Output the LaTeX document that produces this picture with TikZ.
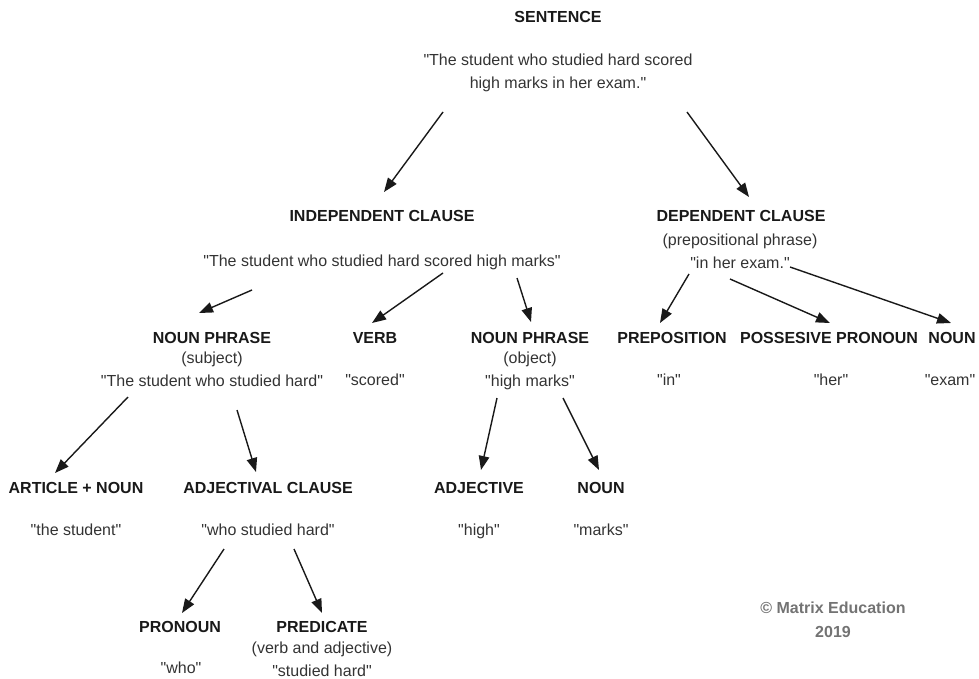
\documentclass[tikz,border=0pt]{standalone}
\usepackage{fontspec}
\setmainfont{Liberation Sans}[Ligatures=TeXOff]
\usetikzlibrary{arrows.meta}

\tikzset{
  lbl/.style={anchor=north,inner sep=0pt,align=center,font=\fontsize{16}{22.5}\selectfont},
  head/.style={lbl,text=black!90,font=\fontsize{16}{22.5}\selectfont\bfseries},
  quote/.style={lbl,text=black!80},
  note/.style={lbl,text=black!55,font=\fontsize{16}{24}\selectfont\bfseries},
  arr/.style={line width=1.4pt,black!90,-{Triangle[length=14pt,width=10.5pt]}}
}

\begin{document}
\begin{tikzpicture}[x=1pt,y=-1pt]
\useasboundingbox (0,0) rectangle (979,679);
% sentence
\node[head]  (sent)   at (558,11)  {SENTENCE};
\node[quote] (sentq)  at (558,54)  {"The student who studied hard scored\\high marks in her exam."};
% clauses
\node[head]  (indep)  at (382,210) {INDEPENDENT CLAUSE};
\node[quote] (indepq) at (382,255) {"The student who studied hard scored high marks"};
\node[head]  (dep)    at (741,210) {DEPENDENT CLAUSE};
\node[quote] (depq)   at (740,234) {(prepositional phrase)\\"in her exam."};
% phrases
\node[head]  (nps)    at (212,332) {NOUN PHRASE};
\node[quote] (npsq)   at (212,352) {(subject)\\"The student who studied hard"};
\node[head]  (verb)   at (375,332) {VERB};
\node[quote] (verbq)  at (375,374) {"scored"};
\node[head]  (npo)    at (530,332) {NOUN PHRASE};
\node[quote] (npoq)   at (530,352) {(object)\\"high marks"};
\node[head]  (prep)   at (672,332) {PREPOSITION};
\node[quote] (prepq)  at (669,374) {"in"};
\node[head]  (poss)   at (829,332) {POSSESIVE PRONOUN};
\node[quote] (possq)  at (831,374) {"her"};
\node[head]  (noun)   at (952,332) {NOUN};
\node[quote] (nounq)  at (950,374) {"exam"};
% words
\node[head]  (art)    at (76,482)  {ARTICLE + NOUN};
\node[quote] (artq)   at (76,524)  {"the student"};
\node[head]  (adjc)   at (268,482) {ADJECTIVAL CLAUSE};
\node[quote] (adjcq)  at (268,524) {"who studied hard"};
\node[head]  (adj)    at (479,482) {ADJECTIVE};
\node[quote] (adjq)   at (479,524) {"high"};
\node[head]  (nounb)  at (601,482) {NOUN};
\node[quote] (nounbq) at (601,524) {"marks"};
\node[head]  (pron)   at (180,621) {PRONOUN};
\node[quote] (pronq)  at (181,662) {"who"};
\node[head]  (pred)   at (322,621) {PREDICATE};
\node[quote] (predq)  at (322,642) {(verb and adjective)\\"studied hard"};
% copyright
\node[note]  (copy)   at (833,602) {\textcopyright{} Matrix Education\\2019};

% arrow ends
\coordinate (s-l)  at (443,112); \coordinate (i-t)  at (384,192);
\coordinate (s-r)  at (687,112); \coordinate (d-t)  at (749,197);
\coordinate (i-a)  at (252,290); \coordinate (ns-t) at (199,313);
\coordinate (i-b)  at (443,273); \coordinate (v-t)  at (372,323);
\coordinate (i-c)  at (517,278); \coordinate (no-t) at (531,322);
\coordinate (d-a)  at (689,274); \coordinate (p-t)  at (660,323);
\coordinate (d-b)  at (730,279); \coordinate (pp-t) at (830,323);
\coordinate (d-c)  at (790,267); \coordinate (n-t)  at (951,323);
\coordinate (ns-a) at (128,397); \coordinate (a-t)  at (55,473);
\coordinate (ns-b) at (237,410); \coordinate (ac-t) at (256,472);
\coordinate (no-a) at (497,398); \coordinate (aj-t) at (481,470);
\coordinate (no-b) at (563,398); \coordinate (nb-t) at (599,470);
\coordinate (ac-a) at (224,549); \coordinate (pr-t) at (182,613);
\coordinate (ac-b) at (294,549); \coordinate (pd-t) at (322,613);

\foreach \a/\b in {s-l/i-t,s-r/d-t,i-a/ns-t,i-b/v-t,i-c/no-t,d-a/p-t,d-b/pp-t,d-c/n-t,
  ns-a/a-t,ns-b/ac-t,no-a/aj-t,no-b/nb-t,ac-a/pr-t,ac-b/pd-t}
  \draw[arr] (\a) -- (\b);
\end{tikzpicture}
\end{document}
